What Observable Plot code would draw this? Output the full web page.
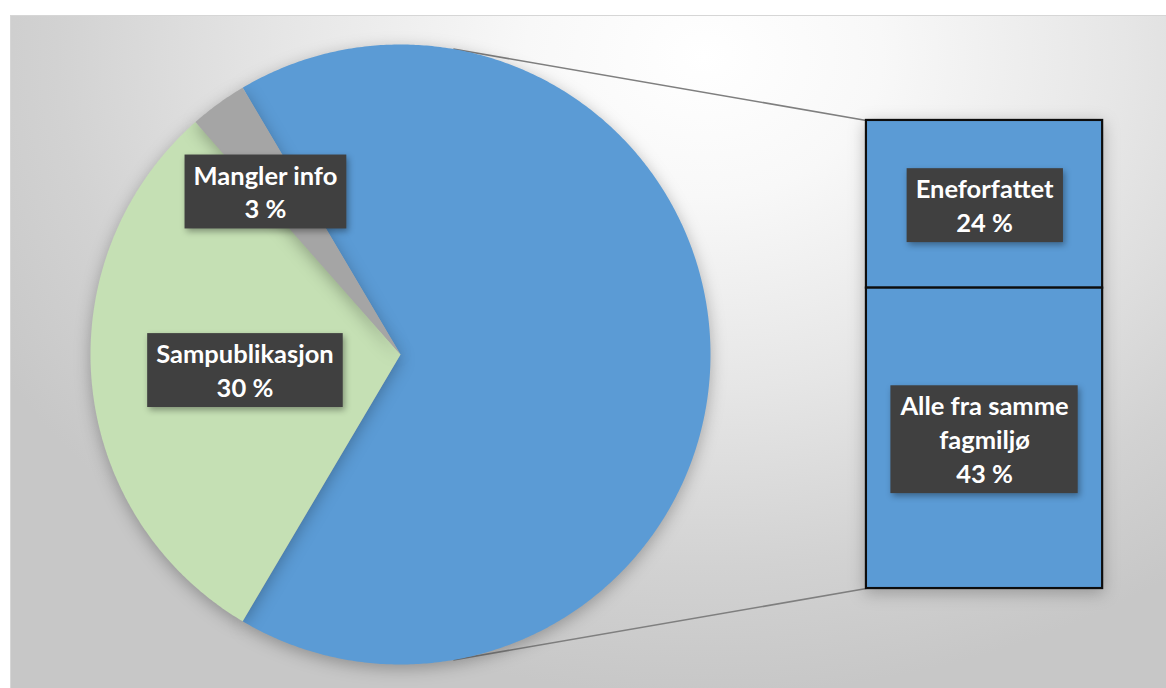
<!DOCTYPE html>
<html>
<head>
<meta charset="utf-8">
<script src="https://cdn.jsdelivr.net/npm/d3@7"></script>
<script src="https://cdn.jsdelivr.net/npm/@observablehq/plot@0.6"></script>
<style>
  html, body { margin: 0; padding: 0; background: #ffffff; }
  #frame {
    position: absolute; left: 10px; top: 15px; width: 1155px; height: 672px;
    border-top: 1px solid #d6d6d6; border-left: 1px solid #d6d6d6;
    background: radial-gradient(ellipse 70% 95% at 60% 6%, #ffffff 0%, #f8f8f8 22%, #e6e6e6 52%, #d2d2d2 80%, #c7c7c7 100%);
    overflow: hidden;
  }
  #frame svg { display: block; }
</style>
</head>
<body>
<div id="frame"></div>
<script>
// ---- data ----
const pieCategories = ["Sampublikasjon", "Mangler info"];
const pieValues = [30, 3];
const barCategories = ["Eneforfattet", "Alle fra samme fagmiljø"];
const barValues = [24, 43];
const pieColors = ["#C5E0B4", "#A5A5A5"];
const otherColor = "#5B9BD5";

// ---- layout (pixels -> unit-radius coordinates) ----
const W = 1155, H = 672;
const cx = 389, cy = 338, R = 310;
const barLeft = 1.503, barWidth = 0.762, secondSize = 0.755;
const labelRadius = [0.504, 0.685];
const labelAngleShift = [0, -3.5];

const other = d3.sum(barValues);
const total = other + d3.sum(pieValues);

// slices (angles in degrees, clockwise from 12 o'clock)
const otherSpan = other / total * 360;
const slices = [{name: "other", a0: 90 - otherSpan / 2, a1: 90 + otherSpan / 2, color: otherColor}];
let acc = 90 + otherSpan / 2;
pieValues.forEach((v, i) => {
  const span = v / total * 360;
  slices.push({name: pieCategories[i], value: v, a0: acc, a1: acc + span, color: pieColors[i], idx: i});
  acc += span;
});
const rad = Math.PI / 180;
function slicePoints(s) {
  const pts = [{x: 0, y: 0}];
  const n = Math.max(2, Math.ceil((s.a1 - s.a0) / 0.5));
  for (let k = 0; k <= n; k++) {
    const a = (s.a0 + (s.a1 - s.a0) * k / n) * rad;
    pts.push({x: Math.sin(a), y: Math.cos(a)});
  }
  return pts;
}

// stacked bar segments
const k = 2 * secondSize / other;
let cum = 0;
const barData = barValues.map((v, i) => {
  const d = {name: barCategories[i], value: v, x1: barLeft, x2: barLeft + barWidth,
             y1: secondSize - cum * k, y2: secondSize - (cum + v) * k};
  cum += v;
  return d;
});

// connector lines: tangents from bar corners to the pie
function tangent(px, py, upper) {
  const d = Math.hypot(px, py), phi = Math.atan2(py, px), alpha = Math.acos(1 / d);
  const t = upper ? phi + alpha : phi - alpha;
  return {x1: Math.cos(t), y1: Math.sin(t), x2: px, y2: py};
}
const connectors = [tangent(barLeft, secondSize, true), tangent(barLeft, -secondSize, false)];

// labels
const labels = [];
slices.slice(1).forEach(s => {
  const mid = ((s.a0 + s.a1) / 2 + labelAngleShift[s.idx]) * rad, r = labelRadius[s.idx];
  labels.push({x: r * Math.sin(mid), y: r * Math.cos(mid), text: `${s.name}\n${s.value} %`});
});
barData.forEach(b => {
  labels.push({x: (b.x1 + b.x2) / 2, y: (b.y1 + b.y2) / 2, text: `${b.name}\n${b.value} %`});
});

const marks = [
  Plot.link(connectors, {x1: "x1", y1: "y1", x2: "x2", y2: "y2", stroke: "#7f7f7f", strokeWidth: 1.6})
];
slices.forEach(s => {
  marks.push(Plot.line(slicePoints(s), {x: "x", y: "y", fill: s.color, stroke: "none", curve: "linear-closed"}));
});
marks.push(Plot.rect(barData, {x1: "x1", x2: "x2", y1: "y1", y2: "y2", fill: otherColor, stroke: "#0d0d0d", strokeWidth: 2.2}));
marks.push(Plot.text(labels, {x: "x", y: "y", text: "text", fill: "#ffffff", fontSize: 25.5, fontWeight: "bold",
  fontFamily: "Lato, 'Open Sans', sans-serif", lineHeight: 1.33, lineWidth: 8}));

const chart = Plot.plot({
  width: W, height: H, margin: 0,
  x: {domain: [-cx / R, (W - cx) / R], axis: null},
  y: {domain: [-(H - cy) / R, cy / R], axis: null},
  style: {background: "transparent", overflow: "visible"},
  marks
});
document.getElementById("frame").appendChild(chart);

// styling: shadows and label boxes
const svg = d3.select(chart);
svg.selectAll('g[aria-label="line"]').style("filter", "drop-shadow(0px 4px 8px rgba(0,0,0,0.28))");
svg.selectAll('g[aria-label="rect"]').style("filter", "drop-shadow(0px 4px 8px rgba(0,0,0,0.25))");
svg.selectAll('g[aria-label="text"] text').each(function() {
  const bb = this.getBBox();
  const padX = 9, padY = 5;
  const rect = document.createElementNS("http://www.w3.org/2000/svg", "rect");
  rect.setAttribute("x", bb.x - padX);
  rect.setAttribute("y", bb.y - padY);
  rect.setAttribute("width", bb.width + 2 * padX);
  rect.setAttribute("height", bb.height + 2 * padY);
  rect.setAttribute("fill", "#404040");
  const tr = this.getAttribute("transform");
  if (tr) rect.setAttribute("transform", tr);
  rect.style.filter = "drop-shadow(2px 3px 3px rgba(0,0,0,0.35))";
  this.parentNode.insertBefore(rect, this);
});
</script>
</body>
</html>
